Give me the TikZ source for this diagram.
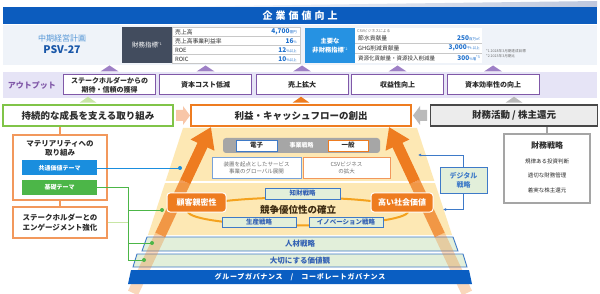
\documentclass[tikz,border=0pt]{standalone}
\usepackage{fontspec}
\setmainfont{Noto Sans CJK JP}
\usepackage{xcolor}
\usetikzlibrary{arrows.meta,calc}
\definecolor{HdrBlue}{RGB}{12,92,190}
\definecolor{HdrShade}{RGB}{190,200,222}
\definecolor{PanelBg}{RGB}{239,243,249}
\definecolor{PlanBlue}{RGB}{84,150,214}
\definecolor{PsvBlue}{RGB}{24,86,168}
\definecolor{FinDark}{RGB}{66,76,94}
\definecolor{ValBlue}{RGB}{30,112,205}
\definecolor{NonFinBlue}{RGB}{38,146,226}
\definecolor{RuleGray}{RGB}{200,200,200}
\definecolor{OutBg}{RGB}{230,228,246}
\definecolor{OutPurple}{RGB}{128,88,168}
\definecolor{TriPurple}{RGB}{158,128,198}
\definecolor{SusGreen}{RGB}{128,196,72}
\definecolor{SusTri}{RGB}{200,230,165}
\definecolor{ProfOrange}{RGB}{238,124,32}
\definecolor{Salmon}{RGB}{248,198,168}
\definecolor{FinFill}{RGB}{236,236,236}
\definecolor{FinDraw}{RGB}{72,72,72}
\definecolor{ArrGray}{RGB}{186,186,186}
\definecolor{BoxGray}{RGB}{165,165,165}
\definecolor{MatOrange}{RGB}{242,152,92}
\definecolor{ThemeBlue}{RGB}{26,142,222}
\definecolor{ThemeGreen}{RGB}{76,182,72}
\definecolor{PyrYellow}{RGB}{253,232,180}
\definecolor{StratGreen}{RGB}{226,239,218}
\definecolor{StratBlue}{RGB}{62,122,200}
\definecolor{StratText}{RGB}{52,98,180}
\definecolor{RingOrange}{RGB}{244,162,30}
\definecolor{RingText}{RGB}{60,42,16}
\definecolor{BizGray}{RGB}{166,166,166}
\definecolor{TextDark}{RGB}{45,45,45}
\definecolor{TextGray}{RGB}{110,110,110}
\definecolor{GovBlue}{RGB}{10,94,194}
\newcommand{\fsz}[2]{\fontsize{#1}{#2}\selectfont}
\newcommand{\unitsm}[1]{{\mdseries\fontsize{3.6}{4}\selectfont #1}}
\newcommand{\notemark}[1]{\raisebox{2pt}{\mdseries\fontsize{3.5}{4}\selectfont #1}}
\newcommand{\titlefont}{\bfseries\fontsize{10}{12}\selectfont\addfontfeatures{LetterSpace=30}}
\newcommand{\govfont}{\bfseries\fontsize{7}{8}\selectfont\addfontfeatures{LetterSpace=10}}

\begin{document}
\begin{tikzpicture}[x=1pt,y=-1pt,
outbox/.style={rectangle,draw=OutPurple,line width=1pt,fill=white,minimum width=92pt,
minimum height=20pt,inner sep=0pt,align=center,font=\bfseries\fsz{7}{8.6},text=TextDark},
headbox/.style={rectangle,line width=1.6pt,fill=white,minimum height=21pt,inner sep=0pt,
font=\bfseries\fsz{9.5}{11},text=TextDark},
leftbox/.style={rectangle,draw=MatOrange,line width=1.1pt,fill=white,minimum width=94pt,
inner sep=0pt,align=center,font=\bfseries\fsz{7.5}{9.8},text=TextDark},
themebar/.style={rectangle,minimum width=75pt,minimum height=15pt,inner sep=0pt,
text=white,font=\bfseries\fsz{6}{7}},
tlabel/.style={anchor=west,inner sep=0pt,font=\fsz{5.8}{7},text=TextDark},
tval/.style={anchor=east,inner sep=0pt,font=\bfseries\fsz{6.5}{7},text=ValBlue},
bizbox/.style={rectangle,line width=0.8pt,fill=white,inner sep=0pt,align=center},
stratbox/.style={rectangle,draw=StratBlue,line width=0.8pt,fill=StratGreen,inner sep=0pt,
text=StratText,font=\bfseries\fsz{6.5}{7.5}},
valuebox/.style={rectangle,rounded corners=3pt,draw=white,line width=1pt,fill=ProfOrange,
minimum height=19pt,inner sep=0pt,text=white,font=\bfseries\fsz{8}{9}},
barlabel/.style={inner sep=0pt,font=\bfseries\fsz{7.5}{8},text=StratText},
itemtxt/.style={inner sep=0pt,font=\fsz{5.5}{6.5},text=TextDark},
bigarrow/.style={draw=ProfOrange,line width=11pt},
matline/.style={draw=MatOrange,line width=1.1pt},
finline/.style={draw=BoxGray,line width=1.1pt},
bline/.style={draw=ThemeBlue,line width=0.9pt},
gline/.style={draw=ThemeGreen,line width=0.9pt},
digarrow/.style={-{Latex[length=3pt,width=3pt]},draw=StratBlue,line width=0.9pt}
]
\useasboundingbox (0,0) rectangle (600,294);
\fill[white] (0,0) rectangle (600,294);

% header and plan targets
\shade[left color=white,right color=HdrShade] (140,7) -- (597,1) -- (597,7) -- cycle;
\node[fill=HdrBlue,minimum width=594pt,minimum height=17pt,inner sep=0pt,text=white,
font=\titlefont] (title) at (300,15.5) {企業価値向上};
\fill[PanelBg] (3,25) rectangle (597,65);
\node[text=PlanBlue,font=\fsz{8}{9}] (plan) at (62,38.5) {中期経営計画};
\node[text=PsvBlue,font=\bfseries\fsz{10.5}{12}] (psv) at (62,49.5) {PSV-27};
\node[fill=FinDark,minimum width=50pt,minimum height=36pt,inner sep=0pt,text=white,
font=\fsz{6.5}{8}] (finlbl) at (147,45) {財務指標\notemark{*1}};
\fill[white] (172,27) rectangle (300,63);
\foreach \y in {36.5,45.5,54.5} \draw[RuleGray,line width=0.6pt] (172,\y) -- (300,\y);
\draw[RuleGray,line width=0.6pt] (172,27) rectangle (300,63);
\node[tlabel] (r1) at (175,32) {売上高};
\node[tlabel] (r2) at (175,41) {売上高事業利益率};
\node[tlabel] (r3) at (175,50) {ROE};
\node[tlabel] (r4) at (175,59) {ROIC};
\node[tval] (v1) at (297,32) {4,700\unitsm{億円}};
\node[tval] (v2) at (297,41) {16\unitsm{\%}};
\node[tval] (v3) at (297,50) {12\unitsm{\%以上}};
\node[tval] (v4) at (297,59) {10\unitsm{\%以上}};
\node[fill=NonFinBlue,minimum width=50pt,minimum height=35pt,inner sep=0pt,align=center,
text=white,font=\bfseries\fsz{6.3}{9.5}] (nflbl) at (330,45.5) {主要な\\非財務指標\notemark{*2}};
\fill[white] (355,28) rectangle (482,63);
\draw[RuleGray,line width=0.6pt] (355,43) -- (482,43) (355,53) -- (482,53);
\node[anchor=west,inner sep=0pt,font=\fsz{3.8}{4.5},text=TextGray] (csvby) at (357,31.5) {CSVビジネスによる};
\node[tlabel] (n1) at (358,38.5) {節水貢献量};
\node[tlabel] (n2) at (358,48) {GHG削減貢献量};
\node[tlabel,font=\fsz{5.5}{7}] (n3) at (358,58) {資源化貢献量・資源投入削減量};
\node[tval] (m1) at (480,38.5) {250\unitsm{百万㎥}};
\node[tval] (m2) at (480,48) {3,000\unitsm{千t 以上}};
\node[tval] (m3) at (480,58) {300\unitsm{\%増}\notemark{*3}};
\node[anchor=west,inner sep=0pt,align=left,font=\fsz{3.6}{5},text=TextGray] (notes) at (486,53.5)
{*1 2028年3月期達成目標\\*2 2023年3月期比};

% outputs
\fill[OutBg] (3,72) rectangle (597,98);
\node[font=\bfseries\fsz{8}{9},text=OutPurple] (outlbl) at (32,85) {アウトプット};
\node[outbox] (o1) at (109.5,85) {ステークホルダーからの\\期待・信頼の獲得};
\node[outbox] (o2) at (205.5,85) {資本コスト低減};
\node[outbox] (o3) at (302,85) {売上拡大};
\node[outbox] (o4) at (397.5,85) {収益性向上};
\node[outbox] (o5) at (493,85) {資本効率性の向上};
\foreach \n in {o1,o2,o3,o4,o5}
  \fill[TriPurple] ([xshift=-9pt,yshift=3pt]\n.north) -- ([yshift=9pt]\n.north)
    -- ([xshift=9pt,yshift=3pt]\n.north) -- cycle;

% three pillars
\node[headbox,draw=SusGreen,minimum width=170pt] (sus) at (88,115.5) {持続的な成長を支える取り組み};
\node[headbox,draw=ProfOrange,minimum width=220pt] (prof) at (301,115.5) {利益・キャッシュフローの創出};
\node[headbox,draw=FinDraw,fill=FinFill,minimum width=167pt] (fin) at (514,115.5) {財務活動 / 株主還元};
\fill[SusTri] ([xshift=-8.5pt,yshift=1.5pt]sus.north) -- ([yshift=7.5pt]sus.north)
  -- ([xshift=8.5pt,yshift=1.5pt]sus.north) -- cycle;
\fill[ProfOrange] ([xshift=-8.5pt,yshift=1.5pt]prof.north) -- ([yshift=7.5pt]prof.north)
  -- ([xshift=8.5pt,yshift=1.5pt]prof.north) -- cycle;
\fill[ArrGray] ([xshift=-8.5pt,yshift=1.5pt]fin.north) -- ([yshift=7.5pt]fin.north)
  -- ([xshift=8.5pt,yshift=1.5pt]fin.north) -- cycle;
\fill[Salmon] (176,110) -- (183,110) -- (183,106) -- (190,115.5) -- (183,125) -- (183,121) -- (176,121) -- cycle;
\fill[ArrGray] (427,110) -- (420,110) -- (420,106) -- (413,115.5) -- (420,125) -- (420,121) -- (427,121) -- cycle;

% pyramid
\fill[PyrYellow] (183,128) -- (417,128) -- (452,235) -- (148,235) -- cycle;
\draw[white,line width=2pt] (164,182) -- (436,182);
\node[fill=BizGray,rounded corners=3pt,minimum width=157pt,minimum height=15pt,inner sep=0pt,
text=white,font=\bfseries\fsz{6}{7}] (biz) at (301.5,145.5) {事業戦略};
\node[bizbox,draw=StratBlue,minimum width=41pt,minimum height=11pt,font=\bfseries\fsz{6.5}{7},
text=TextDark] (elec) at (256.5,145.5) {電子};
\node[bizbox,draw=ProfOrange,minimum width=40pt,minimum height=11pt,font=\bfseries\fsz{6.5}{7},
text=TextDark] (gen) at (348,145.5) {一般};
\node[bizbox,draw=StratBlue!70,minimum width=89pt,minimum height=21pt,font=\fsz{5.5}{7},
text=TextGray] (svc) at (256.5,167.5) {装置を起点としたサービス\\事業のグローバル展開};
\node[bizbox,draw=MatOrange,minimum width=87pt,minimum height=21pt,font=\fsz{5.5}{7},
text=TextGray] (csv) at (346.5,167.5) {CSVビジネス\\の拡大};

\filldraw[fill=StratGreen,draw=StratBlue,line width=0.9pt] (147,237) -- (453,237) -- (458,251) -- (142,251) -- cycle;
\node[barlabel] (hr) at (300,244) {人材戦略};
\filldraw[fill=StratGreen,draw=StratBlue,line width=0.9pt] (137,254) -- (463,254) -- (467,267) -- (133,267) -- cycle;
\node[barlabel] (vals) at (300,260.5) {大切にする価値観};

% growth arrows
\coordinate (la0) at (133,293); \coordinate (la3) at (211,127);
\coordinate (la1) at ($(la0)!0.35!(la3)$); \coordinate (la2) at ($(la0)!0.67!(la3)$);
\coordinate (ra0) at (467,293); \coordinate (ra3) at (389,127);
\coordinate (ra1) at ($(ra0)!0.35!(ra3)$); \coordinate (ra2) at ($(ra0)!0.67!(ra3)$);
\draw[bigarrow,draw opacity=0.3] (la0) -- (la1);
\draw[bigarrow,draw opacity=0.75] (la1) -- (la2);
\draw[bigarrow,-{Triangle[length=20pt,width=25pt]}] (la2) -- (la3);
\draw[bigarrow,draw opacity=0.3] (ra0) -- (ra1);
\draw[bigarrow,draw opacity=0.75] (ra1) -- (ra2);
\draw[bigarrow,-{Triangle[length=20pt,width=25pt]}] (ra2) -- (ra3);

\draw[RingOrange,line width=2pt] (298,211.5) ellipse [x radius=110pt,y radius=14pt];
\node[font=\bfseries\fsz{9.5}{11},text=RingText] (adv) at (298,210) {競争優位性の確立};
\node[stratbox,minimum width=75pt,minimum height=11pt] (ip) at (302.5,193.5) {知財戦略};
\node[stratbox,minimum width=74pt,minimum height=10pt] (prod) at (259,222) {生産戦略};
\node[stratbox,minimum width=74pt,minimum height=10pt] (innov) at (346,222) {イノベーション戦略};
\node[valuebox,minimum width=59pt] (cust) at (196.5,202.5) {顧客親密性};
\node[valuebox,minimum width=62pt] (soc) at (402,202.5) {高い社会価値};

\fill[GovBlue] (131,270) -- (469,270) -- (472,284) -- (128,284) -- cycle;
\node[inner sep=0pt,text=white,font=\govfont] (gov) at (300,277) {グループガバナンス\hspace{8pt}/\hspace{8pt}コーポレートガバナンス};

% sustainability side
\node[leftbox,minimum height=65pt] (mat) at (60,167.5) {};
\node[inner sep=0pt,align=center,font=\bfseries\fsz{7.5}{9.5},text=TextDark] (mattxt) at (60,148.5) {マテリアリティへの\\取り組み};
\node[themebar,fill=ThemeBlue] (comval) at (59.5,168) {共通価値テーマ};
\node[themebar,fill=ThemeGreen] (basic) at (59.5,187.5) {基礎テーマ};
\node[leftbox,minimum height=31pt] (eng) at (60,222.5) {ステークホルダーとの\\エンゲージメント強化};
\draw[matline] (sus.south -| mat.north) -- (mat.north);
\draw[matline] (mat.south) -- (eng.north);
\coordinate (bdot) at (180,168);
\draw[bline] (comval.east) -- (bdot);
\fill[ThemeBlue] (bdot) circle[radius=2pt];
\coordinate (gj0) at (128,187.5); \coordinate (gj1) at (128,210);
\coordinate (gj2) at (128,243); \coordinate (gj3) at (128,260);
\coordinate (gd1) at (162,210); \coordinate (gd2) at (152,243); \coordinate (gd3) at (144,260);
\draw[gline,draw=SusTri,line width=1.2pt] (eng.east) -- (eng.east -| gj0);
\draw[gline] (basic.east) -- (gj0) -- (gj3) -- (gd3);
\draw[gline] (gj1) -- (gd1);
\draw[gline] (gj2) -- (gd2);
\foreach \d in {gd1,gd2,gd3} \fill[ThemeGreen] (\d) circle[radius=2pt];

% finance side
\node[rectangle,draw=BoxGray,line width=1.2pt,fill=white,minimum width=86pt,minimum height=69pt] (finst) at (547,168.5) {};
\node[inner sep=0pt,font=\bfseries\fsz{8}{9},text=TextDark] (fintitle) at (547,145) {財務戦略};
\node[itemtxt] (fi1) at (547,161.5) {規律ある投資判断};
\node[itemtxt] (fi2) at (547,175) {適切な財務管理};
\node[itemtxt] (fi3) at (547,190) {着実な株主還元};
\draw[finline] (fin.south -| finst.north) -- (finst.north);
\node[stratbox,align=center,minimum width=47pt,minimum height=26pt,font=\bfseries\fsz{7}{9},
text=StratBlue] (dig) at (463.5,180) {デジタル\\戦略};
\coordinate (digt) at (418,155); \coordinate (digb) at (443,209.5);
\draw[digarrow] (dig.north) |- (digt);
\draw[digarrow] (dig.south) |- (digb);
\end{tikzpicture}
\end{document}
